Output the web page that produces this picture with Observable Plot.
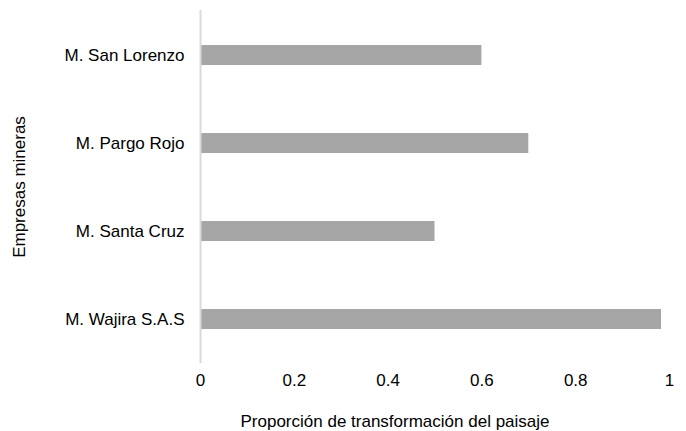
<!DOCTYPE html>
<html><head><meta charset="utf-8">
<script src="https://cdn.jsdelivr.net/npm/d3@7"></script>
<script src="https://cdn.jsdelivr.net/npm/@observablehq/plot@0.6"></script>
<style>body{margin:0;background:#fff;font-family:"Liberation Sans",Arial,sans-serif;}</style>
</head><body><div id="chart"></div>
<script>
const empresas = ["M. San Lorenzo", "M. Pargo Rojo", "M. Santa Cruz", "M. Wajira S.A.S"];
const proporcion = [0.60, 0.70, 0.50, 0.983];
const xTicks = [0, 0.2, 0.4, 0.6, 0.8, 1];
const xTitle = ["Proporción de transformación del paisaje"];
const data = empresas.map((e, i) => ({empresa: e, valor: proporcion[i]}));

const chart = Plot.plot({
  width: 686, height: 431,
  marginLeft: 200, marginRight: 17, marginTop: 10, marginBottom: 68,
  style: {fontFamily: "'Liberation Sans', Arial, sans-serif", fontSize: "17px", color: "#000", background: "#fff"},
  x: {domain: [0, 1]},
  y: {domain: empresas, padding: 0},
  marks: [
    Plot.barX(data, {x: "valor", y: "empresa", fill: "#a6a6a6", insetTop: 34, insetBottom: 34}),
    Plot.ruleX([0], {stroke: "#d9d9d9", strokeWidth: 2}),
    Plot.axisX({ticks: xTicks, tickFormat: d => String(d), tickSize: 0, tickPadding: 10, label: null, fontSize: 17}),
    Plot.text(xTitle, {text: d => d, frameAnchor: "bottom", lineAnchor: "middle", dx: -40, dy: 58, fontSize: 17, fill: "#000"}),
    Plot.axisY({tickSize: 0, tickPadding: 16, label: "Empresas mineras", labelAnchor: "center", labelArrow: "none", labelOffset: 188, fontSize: 17})
  ]
});
document.getElementById("chart").appendChild(chart);
</script></body></html>
